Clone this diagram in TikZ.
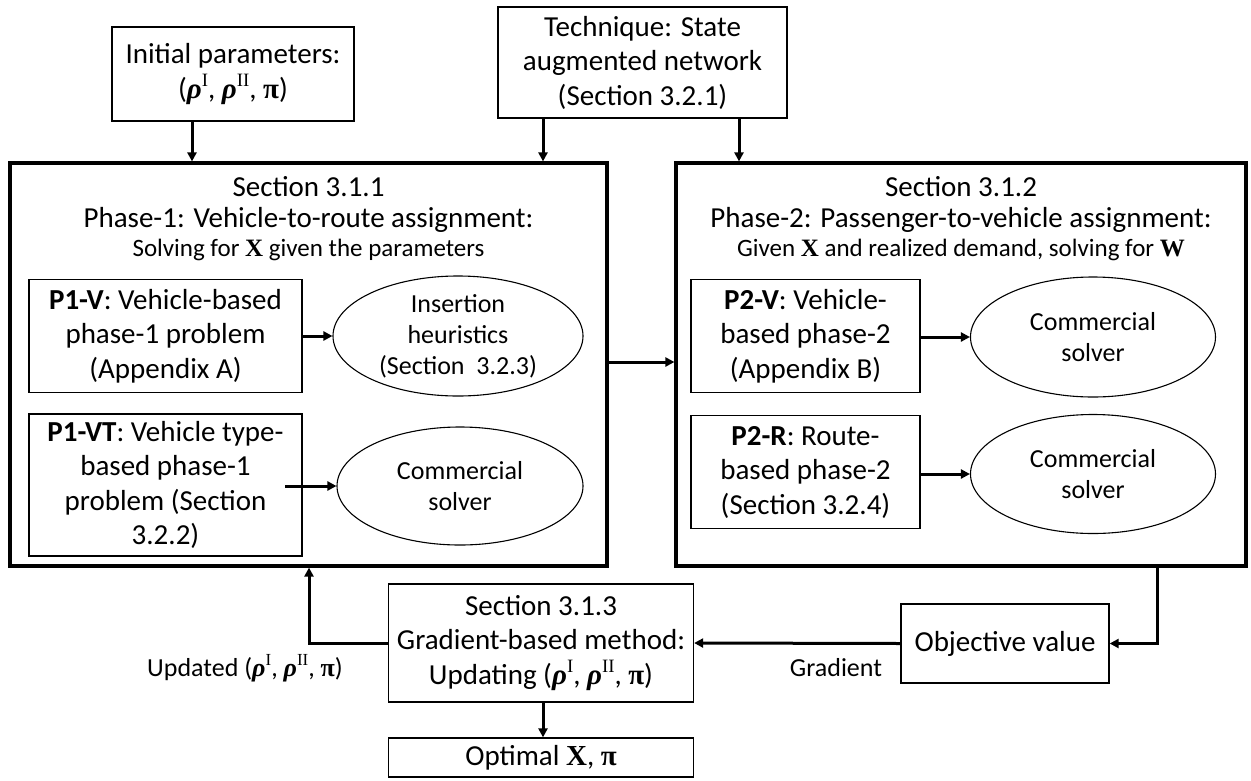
\documentclass[tikz,border=0pt]{standalone}
\usepackage{fontspec}
\setmainfont{Carlito}
\newfontfamily\serif{Liberation Serif}
\usetikzlibrary{arrows.meta,shapes.geometric,calc}

% bold symbols set in a serif face
\newcommand{\bX}{{\serif\bfseries X}}
\newcommand{\bW}{{\serif\bfseries W}}
\newcommand{\bpi}{{\serif\bfseries π}}
\newcommand{\brho}[1]{{\serif\bfseries\itshape ρ}\raisebox{0.42em}{\serif\fontsize{0.65em}{0.65em}\selectfont #1}}
\newcommand{\params}{(\brho{I}, \brho{II}, \bpi)}

\tikzset{
  big/.style={draw, line width=3.2pt, inner sep=0pt},
  box/.style={draw, line width=1.3pt, inner sep=0pt, align=center,
              font=\fontsize{29}{34.5}\selectfont},
  oval/.style={draw, ellipse, line width=1.1pt, inner sep=0pt, align=center,
               font=\fontsize{26}{31}\selectfont},
  head/.style={inner sep=0pt, font=\fontsize{29}{30}\selectfont},
  subhead/.style={inner sep=0pt, font=\fontsize{25}{26}\selectfont},
  lbl/.style={inner sep=0pt, font=\fontsize{26}{28}\selectfont},
  arr/.style={line width=3pt, -{Triangle[length=9pt,width=9pt]}},
}

\begin{document}
\begin{tikzpicture}[x=1pt,y=-1pt]
\useasboundingbox (0,0) rectangle (1251,780);

% outer phase boxes
\node[big, minimum width=597pt, minimum height=403pt] (bigL) at (308.5,364.5) {};
\node[big, minimum width=570pt, minimum height=403pt] (bigR) at (961,364.5) {};

% headers of the phase boxes
\node[head] (hL1) at (308.5,187) {Section 3.1.1};
\node[head] (hL2) at (308.5,219.5) {Phase-1: Vehicle-to-route assignment:};
\node[subhead] (hL3) at (308.5,250) {Solving for \bX{} given the parameters};
\node[head] (hR1) at (961,187) {Section 3.1.2};
\node[head] (hR2) at (961,219.5) {Phase-2: Passenger-to-vehicle assignment:};
\node[subhead] (hR3) at (961,250) {Given \bX{} and realized demand, solving for \bW};

% inputs
\node[box, minimum width=242pt, minimum height=94pt] (init) at (233,74)
  {Initial parameters:\\\params};
\node[box, minimum width=289pt, minimum height=111pt] (tech) at (642.5,62.5)
  {Technique: State\\augmented network\\(Section 3.2.1)};

% phase-1 problems
\node[box, minimum width=273pt, minimum height=113pt] (p1v) at (165.5,336)
  {\textbf{P1-V}: Vehicle-based\\phase-1 problem\\(Appendix A)};
\node[oval, minimum width=250pt, minimum height=120pt] (e1) at (458,336)
  {Insertion\\heuristics\\(Section~~3.2.3)};
\node[box, minimum width=273pt, minimum height=142pt] (p1vt) at (165.5,485)
  {\textbf{P1-VT}: Vehicle type-\\based phase-1\\problem (Section\\3.2.2)};
\node[oval, minimum width=246pt, minimum height=118pt] (e2) at (460,486)
  {Commercial\\solver};

% phase-2 problems
\node[box, minimum width=229pt, minimum height=113pt] (p2v) at (805.5,336)
  {\textbf{P2-V}: Vehicle-\\based phase-2\\(Appendix B)};
\node[oval, minimum width=245pt, minimum height=120pt] (e3) at (1093,337)
  {Commercial\\solver};
\node[box, minimum width=229pt, minimum height=113pt] (p2r) at (805.5,472)
  {\textbf{P2-R}: Route-\\based phase-2\\(Section 3.2.4)};
\node[oval, minimum width=245pt, minimum height=119pt] (e4) at (1093,474)
  {Commercial\\solver};

% feedback loop
\node[box, minimum width=305pt, minimum height=118pt] (grad) at (541,643)
  {Section 3.1.3\\Gradient-based method:\\Updating \params};
\node[box, minimum width=208pt, minimum height=79pt] (obj) at (1005,643.5)
  {Objective value};
\node[box, minimum width=305pt, minimum height=39pt] (opt) at (541,757.5)
  {Optimal \bX, \bpi};

\node[lbl] (lgrad) at (836,668) {Gradient};
\node[lbl] (lupd) at (245,668) {Updated \params};

% x positions of vertical connectors
\coordinate (xa) at (192,0);
\coordinate (xb) at (543,0);
\coordinate (xc) at (739,0);
\coordinate (xd) at (1157,0);
\coordinate (xe) at (309,0);
\coordinate (ya) at (0,362);
\coordinate (t2) at (285,486);

\draw[arr] (init.south -| xa) -- (bigL.north -| xa);
\draw[arr] (tech.south -| xb) -- (bigL.north -| xb);
\draw[arr] (tech.south -| xc) -- (bigR.north -| xc);

\draw[arr] (p1v.east |- e1.west) -- (e1.west);
\draw[arr] (t2) -- (e2.west);
\draw[arr] (p2v.east |- e3.west) -- (e3.west);
\draw[arr] (p2r.east |- e4.west) -- (e4.west);

\draw[arr] (bigL.east |- ya) -- (bigR.west |- ya);

\draw[arr] (bigR.south -| xd) |- (obj.east);
\draw[arr] (obj.west) -- (grad.east);
\draw[arr] (grad.west) -| (bigL.south -| xe);
\draw[arr] (grad.south -| xb) -- (opt.north -| xb);
\end{tikzpicture}
\end{document}
